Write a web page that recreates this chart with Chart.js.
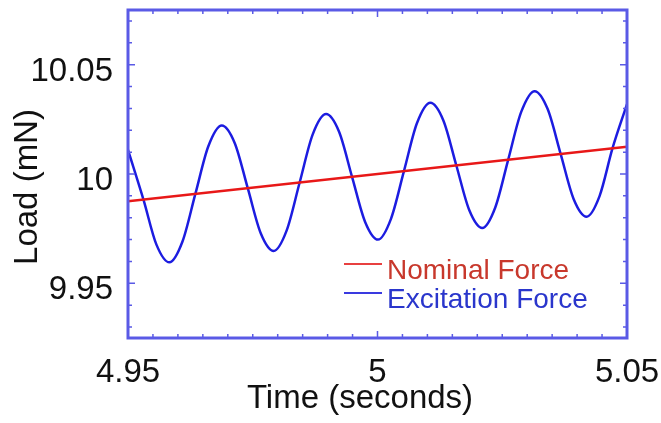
<!DOCTYPE html>
<html>
<head>
<meta charset="utf-8">
<script src="https://cdn.jsdelivr.net/npm/chart.js@4.4.1/dist/chart.umd.min.js"></script>
<style>
  html, body { margin: 0; padding: 0; background: #fff; }
  #wrap { width: 661px; height: 423px; }
</style>
</head>
<body>
<div id="wrap"><canvas id="loadPlot" width="661" height="423"></canvas></div>
<script>
// Load vs time around t = 5 s
const timeSec = [4.95, 4.9531, 4.9557, 4.9583, 4.9609, 4.9635, 4.9661, 4.9688, 4.9714, 4.9740,
  4.9766, 4.9792, 4.9818, 4.9844, 4.9870, 4.9897, 4.9923, 4.9949, 4.9975, 5.0001,
  5.0027, 5.0053, 5.0079, 5.0106, 5.0132, 5.0158, 5.0184, 5.0210, 5.0236, 5.0262,
  5.0288, 5.0315, 5.0341, 5.0367, 5.0393, 5.0419, 5.0445, 5.0471, 5.05];
const excitationLoad = [10.011, 9.9883, 9.9677, 9.9596, 9.9690, 9.9909, 10.0127, 10.0222, 10.0141, 9.9935,
  9.9729, 9.9648, 9.9742, 9.9961, 10.0180, 10.0274, 10.0193, 9.9987, 9.9782, 9.9700,
  9.9795, 10.0013, 10.0232, 10.0326, 10.0245, 10.0039, 9.9834, 9.9753, 9.9847, 10.0066,
  10.0284, 10.0379, 10.0297, 10.0092, 9.9886, 9.9805, 9.9899, 10.0118, 10.032];
const nominalTime = [4.95, 5.05];
const nominalLoad = [9.9875, 10.0125];

const xMajor = [4.95, 5, 5.05];
const yMajor = [9.95, 10, 10.05];
const xLabel = 'Time (seconds)';
const yLabel = 'Load (mN)';
const seriesNames = ['Nominal Force', 'Excitation Force'];

const X_MIN = 4.95, X_MAX = 5.05, X_STEP = 0.005;
const Y_MIN = 9.925, Y_MAX = 10.075, Y_STEP = 0.01;

const FONT = '"Liberation Sans", Arial, Helvetica, sans-serif';
const BOX = '#5a5ae6';

function isMajor(v, list) {
  return list.some(m => Math.abs(v - m) < 1e-9);
}

// every minor step inside [lo, hi]
function stepsBetween(lo, hi, step) {
  const out = [];
  for (let k = Math.ceil(lo / step - 1e-6); k * step <= hi + 1e-9; k++) {
    out.push(+(k * step).toFixed(4));
  }
  return out;
}

// keep the plot box exactly where layout.padding puts it
function fixScale(w, h) {
  return s => {
    if (w) s.width = w;
    if (h) s.height = h;
    s.paddingLeft = s.paddingRight = s.paddingTop = s.paddingBottom = 0;
  };
}

// frame, inward tick marks on all four sides, axis titles and legend
const framePlugin = {
  id: 'frame',
  afterDraw(chart) {
    const { ctx, chartArea: a, scales } = chart;
    ctx.save();
    ctx.strokeStyle = BOX;
    ctx.lineWidth = 1.5;
    ctx.beginPath();
    scales.x.ticks.forEach(t => {
      const px = scales.x.getPixelForValue(t.value);
      const len = isMajor(t.value, xMajor) ? 7 : 4;
      ctx.moveTo(px, a.bottom); ctx.lineTo(px, a.bottom - len);
      ctx.moveTo(px, a.top); ctx.lineTo(px, a.top + len);
    });
    scales.y.ticks.forEach(t => {
      const py = scales.y.getPixelForValue(t.value);
      const len = isMajor(t.value, yMajor) ? 7 : 4;
      ctx.moveTo(a.left, py); ctx.lineTo(a.left + len, py);
      ctx.moveTo(a.right, py); ctx.lineTo(a.right - len, py);
    });
    ctx.stroke();

    ctx.lineWidth = 3;
    ctx.strokeRect(a.left, a.top, a.right - a.left, a.bottom - a.top);

    // axis titles
    ctx.fillStyle = '#111';
    ctx.font = '33px ' + FONT;
    ctx.textAlign = 'center';
    ctx.textBaseline = 'middle';
    ctx.fillText(xLabel, 360, 399);
    ctx.save();
    ctx.translate(28, 187);
    ctx.rotate(-Math.PI / 2);
    ctx.fillText(yLabel, 0, 0);
    ctx.restore();

    // legend
    const rows = [
      { y: 264, line: '#e84040', text: '#c8382c', name: seriesNames[0] },
      { y: 293, line: '#3a3ae0', text: '#2a36cc', name: seriesNames[1] }
    ];
    ctx.font = '28px ' + FONT;
    ctx.textAlign = 'left';
    rows.forEach(r => {
      ctx.strokeStyle = r.line;
      ctx.lineWidth = 2;
      ctx.beginPath();
      ctx.moveTo(344, r.y); ctx.lineTo(382, r.y);
      ctx.stroke();
      ctx.fillStyle = r.text;
      ctx.fillText(r.name, 387, r.y + 7);
    });
    ctx.restore();
  }
};

const tickFont = { family: FONT, size: 33 };
const label = v => isMajor(v, xMajor) || isMajor(v, yMajor) ? String(+(+v).toFixed(2)) : '';

new Chart(document.getElementById('loadPlot').getContext('2d'), {
  type: 'line',
  data: {
    datasets: [
      {
        label: seriesNames[0],
        data: nominalTime.map((t, i) => ({ x: t, y: nominalLoad[i] })),
        borderColor: '#e81818',
        borderWidth: 2.5,
        pointRadius: 0,
        fill: false
      },
      {
        label: seriesNames[1],
        data: timeSec.map((t, i) => ({ x: t, y: excitationLoad[i] })),
        borderColor: '#1c1ce0',
        borderWidth: 2.5,
        pointRadius: 0,
        cubicInterpolationMode: 'monotone',
        fill: false
      }
    ]
  },
  options: {
    responsive: false,
    animation: false,
    layout: { padding: { top: 10, right: 34, left: 0, bottom: 0 } },
    plugins: {
      legend: { display: false },
      tooltip: { enabled: false }
    },
    scales: {
      x: {
        type: 'linear',
        min: X_MIN,
        max: X_MAX,
        afterBuildTicks: s => { s.ticks = stepsBetween(X_MIN, X_MAX, X_STEP).map(v => ({ value: v })); },
        afterFit: fixScale(0, 85),
        grid: { display: false, drawTicks: false },
        border: { display: false },
        ticks: {
          autoSkip: false,
          maxRotation: 0,
          padding: 15,
          color: '#111',
          font: tickFont,
          callback: label
        }
      },
      y: {
        type: 'linear',
        min: Y_MIN,
        max: Y_MAX,
        afterBuildTicks: s => { s.ticks = stepsBetween(Y_MIN, Y_MAX, Y_STEP).map(v => ({ value: v })); },
        afterFit: fixScale(128, 0),
        grid: { display: false, drawTicks: false },
        border: { display: false },
        ticks: {
          autoSkip: false,
          padding: 15,
          labelOffset: 7,
          color: '#111',
          font: tickFont,
          callback: label
        }
      }
    }
  },
  plugins: [framePlugin]
});
</script>
</body>
</html>
